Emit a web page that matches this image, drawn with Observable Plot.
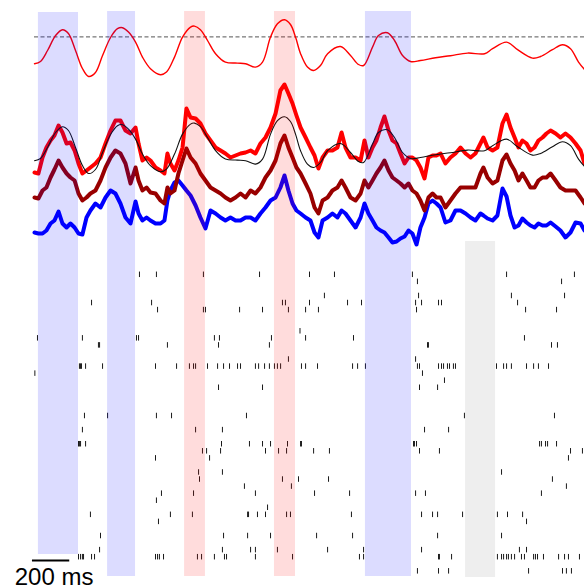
<!DOCTYPE html>
<html>
<head>
<meta charset="utf-8">
<script src="https://cdn.jsdelivr.net/npm/d3@7"></script>
<script src="https://cdn.jsdelivr.net/npm/@observablehq/plot@0.6"></script>
<style>
  html, body { margin: 0; padding: 0; background: #fff; }
  #chart svg { display: block; }
</style>
</head>
<body>
<div id="chart"></div>
<script>
// ---------- DATA ----------
// Shaded epochs (ms)
const bandStart = [21, 392, 805, 1287, 1775, 2312];
const bandEnd   = [236, 542, 917, 1400, 2022, 2473];
const bandKind  = ["blue", "blue", "red", "red", "blue", "gray"];

// Smooth population rate (Hz) and threshold
const rateTimeMs = [0,32,70,113,150,182,220,257,290,327,365,408,445,472,504,542,579,622,676,708,751,794,837,858,890,928,971,1024,1089,1132,1185,1223,1266,1303,1341,1373,1400,1427,1464,1497,1534,1572,1641,1695,1738,1765,1813,1845,1893,1931,1974,2017,2070,2151,2231,2323,2414,2457,2532,2591,2671,2714,2778,2832,2875,2918,2950];
const rateHz = [8.4,9.5,15,22.5,25.4,23.5,15,6,2,4,12.5,21.5,25.9,26.4,24.2,19.2,11.7,5.9,2.9,4.2,11.7,21.7,26.7,27.2,25.4,20,13.4,9.2,8.7,8.4,6.7,9.2,21.7,28.4,30.4,28,21.7,13.4,6.7,5,7.5,13.4,17,12.5,8,7.5,16.7,22.5,23.9,20,12.5,9.5,10,11.4,12.4,13.7,13.4,15.9,19.2,15.4,11.2,12,15.4,17.9,15.9,9.2,5.5];
const thresholdHz = 21.8;

// Membrane-like traces (arbitrary units), shared time base (ms)
const traceTimeMs = [0,21,43,64,86,107,129,150,172,193,215,236,257,279,300,327,354,381,408,434,461,488,515,542,558,579,601,622,649,676,697,713,729,751,772,794,815,837,864,890,917,944,971,998,1024,1051,1078,1105,1132,1159,1185,1212,1239,1266,1293,1319,1341,1362,1384,1405,1427,1454,1480,1502,1523,1545,1572,1598,1625,1647,1668,1695,1722,1749,1770,1791,1813,1834,1856,1877,1899,1920,1942,1963,1985,2006,2027,2049,2070,2092,2113,2135,2156,2178,2204,2231,2258,2285,2312,2339,2365,2392,2408,2430,2457,2483,2510,2532,2553,2575,2596,2617,2639,2660,2682,2703,2725,2746,2768,2795,2821,2848,2875,2902,2929,2950];
const traceRed = [8,7,23,33,40,45,55,48,37,38,30,17,7,10,13,17,23,37,50,60,60,50,47,53,37,20,23,20,13,10,7,27,17,10,20,33,72,63,62,57,47,40,33,30,27,23,25,27,28,30,27,37,43,53,67,90,96,87,77,65,53,43,33,25,12,23,30,30,33,48,33,23,23,20,40,23,33,40,53,64,50,40,37,27,17,23,23,20,13,2,23,25,25,27,17,23,27,33,27,23,27,37,43,33,30,33,57,66,53,43,33,40,37,30,33,40,43,47,50,47,43,47,43,37,30,17];
const traceDarkRed = [18,17,25,28,38,46,55,48,42,38,35,22,15,18,22,25,35,48,58,65,62,52,32,48,35,25,28,23,22,15,12,28,22,25,42,55,67,58,52,42,35,28,25,22,18,15,18,22,18,25,22,28,38,45,55,72,80,68,58,48,42,32,22,8,2,15,18,25,28,35,28,18,15,22,35,28,35,42,48,55,45,38,35,32,28,32,25,22,15,5,18,22,18,18,8,15,22,28,28,28,28,42,48,38,32,35,55,61,52,45,35,42,35,28,28,35,38,38,42,35,28,25,25,25,18,12];
const traceBlue = [13,12,12,15,22,25,34,22,18,22,18,12,11,28,35,42,38,48,55,52,42,28,22,44,32,25,28,25,22,22,25,45,55,63,65,60,55,50,40,28,17,35,32,28,25,28,25,25,28,28,25,32,38,45,48,58,70,55,42,35,32,28,25,13,8,25,28,32,28,35,32,25,18,28,42,32,25,18,15,13,8,3,4,7,9,15,12,1,18,28,42,45,42,38,23,25,35,35,32,28,25,32,30,27,25,30,57,49,30,18,20,27,23,20,18,22,20,20,23,19,15,8,13,23,22,15];

// Spike raster: one array of spike times (ms) per unit
const spikeTrains = [
  [563,654,906,1207,1475,1609,2027,2532,2896],
  [2054,2827],
  [],
  [1555,2060,2558,2843],
  [306,628,1330,1346,1475,1679,1754,2044,2076,2167,2183,2591],
  [660,906,917,1100,1223,1362,1454,1523,2049,2634,2800],
  [],
  [],
  [1424],
  [16,257,547,558,965,992,1271,1454,1711,2628],
  [343,349,713,987,1260,2108,2113,2773,2805],
  [],
  [1362,2044],
  [241,247,252,274,365,649,762,831,853,864,928,982,1014,1046,1089,1105,1185,1202,1234,1260,1287,1303,1320,1432,1454,1518,1706,1733,1775,2054,2065,2167,2183,2194,2215,2226,2247,2258,2478,2516,2532,2558,2639,2677,2703,2757],
  [2,2081],
  [2199],
  [987,1223,2065,2162],
  [],
  [],
  [],
  [268,392,654,735,1137,2306,2789],
  [],
  [257,864,1008,2092,2221],
  [],
  [236,241,247,274,1003,1153,1223,1266,1357,1427,1432,2033,2038,2049,2709,2719,2741,2752,2800],
  [901,923,998,1239,1309,1352,1497,1582,2065,2172,2875,2939],
  [649,939,2864],
  [],
  [880,1008,2505],
  [885,1330,1416,1577,2778],
  [1126,1378,2853],
  [681,853,1185,1502,1690,2044,2097,2719],
  [654],
  [1250],
  [300,729,847,1143,1148,1196,1239,1352,1373,1700,2076,2135,2162,2296,2483,2537,2618],
  [665,2639],
  [],
  [354,1014,1143,1266,1513,1706,2162,2505],
  [],
  [349,1008,1159,1185,1303,1572,1765,2076,2601,2639],
  [236,247,257,263,306,322,649,660,670,692,874,896,965,1019,1030,1185,1384,1743,1765,2167,2172,2237,2483,2505,2516,2532,2542,2558,2575,2612,2628,2677,2687,2698,2730,2811,2843,2864,2923],
  [],
  [2054,2167,2221,2650,2832,2853,2880]
];

const scaleBarMs = 200;
const scaleBarLabel = "200 ms";

// ---------- LAYOUT (vertical lanes, in layout units, bottom-up) ----------
const W = 584, H = 588;
const lane = {
  rate: {base: 508, gain: 2},
  rateCopy: {base: 411, gain: 2},
  red: {base: 408, gain: 1},
  darkRed: {base: 373, gain: 1},
  blue: {base: 343, gain: 1}
};
const rasterTop = 313.7, rowStep = 7.06, tickHalf = 2.75;
const bandY = {
  blue: [12, 577], red: [12, 577], gray: [11, 347]
};
const bandOverrides = {0: [34, 576]};
const bandColor = {blue: "#0000ff", red: "#ff0000", gray: "#000000"};
const bandOpacity = {blue: 0.137, red: 0.137, gray: 0.067};

// ---------- BUILD TABLES ----------
const bands = bandStart.map((s, i) => {
  const [y1, y2] = bandOverrides[i] || bandY[bandKind[i]];
  return {s, e: bandEnd[i], kind: bandKind[i], y1, y2};
});
const rate = rateTimeMs.map((t, i) => ({t, v: rateHz[i]}));
const mk = arr => traceTimeMs.map((t, i) => ({t, v: arr[i]}));
const spikes = spikeTrains.flatMap((row, r) => row.map(t => ({t, r})));
const rowY = r => rasterTop - r * rowStep;

const chart = Plot.plot({
  width: W, height: H,
  marginTop: 0, marginRight: 0, marginBottom: 0, marginLeft: 0,
  x: {domain: [0, 2950], range: [34, 584], axis: null},
  y: {domain: [0, H], range: [H, 0], axis: null},
  style: {background: "#fff", overflow: "visible"},
  marks: [
    // raster
    Plot.ruleX(spikes, {x: "t", y1: d => rowY(d.r) - tickHalf, y2: d => rowY(d.r) + tickHalf, stroke: "#1a1a1a", strokeWidth: 1}),
    // noisy traces
    Plot.line(mk(traceBlue), {x: "t", y: d => lane.blue.base + lane.blue.gain * d.v, stroke: "#0000ff", strokeWidth: 4, strokeLinejoin: "round"}),
    Plot.line(mk(traceDarkRed), {x: "t", y: d => lane.darkRed.base + lane.darkRed.gain * d.v, stroke: "#990000", strokeWidth: 4, strokeLinejoin: "round"}),
    Plot.line(mk(traceRed), {x: "t", y: d => lane.red.base + lane.red.gain * d.v, stroke: "#ff0000", strokeWidth: 4, strokeLinejoin: "round"}),
    // smooth rate copy over traces
    Plot.line(rate, {x: "t", y: d => lane.rateCopy.base + lane.rateCopy.gain * d.v, stroke: "#111", strokeWidth: 1.1, curve: "catmull-rom"}),
    // rate and threshold
    Plot.ruleY([thresholdHz], {x1: 0, x2: 2950, y: d => lane.rate.base + lane.rate.gain * d, stroke: "#555", strokeWidth: 1, strokeDasharray: "4,2.5"}),
    Plot.line(rate, {x: "t", y: d => lane.rate.base + lane.rate.gain * d.v, stroke: "#ff0000", strokeWidth: 1.4, curve: "catmull-rom"}),
    // shaded epochs on top
    Plot.rect(bands, {x1: "s", x2: "e", y1: "y1", y2: "y2", fill: d => bandColor[d.kind], fillOpacity: d => bandOpacity[d.kind]}),
    // scale bar
    Plot.ruleY([scaleBarMs], {x1: -11, x2: d => -11 + d, y: 28, stroke: "#000", strokeWidth: 2}),
    Plot.text([scaleBarLabel], {x: 105, y: 4, text: d => d, textAnchor: "middle", lineAnchor: "bottom", fontSize: 24, fontFamily: "Liberation Sans, Arial, sans-serif", fill: "#000"})
  ]
});
document.getElementById("chart").appendChild(chart);
</script>
</body>
</html>
